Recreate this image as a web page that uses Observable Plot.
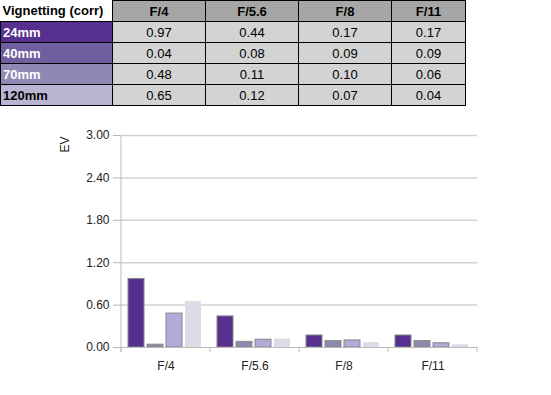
<!DOCTYPE html>
<html>
<head>
<meta charset="utf-8">
<script src="https://cdn.jsdelivr.net/npm/d3@7"></script>
<script src="https://cdn.jsdelivr.net/npm/@observablehq/plot@0.6"></script>
<style>
  html, body { margin: 0; padding: 0; background: #fff; }
  body { width: 551px; height: 395px; overflow: hidden; font-family: "Liberation Sans", Arial, sans-serif; }
  table { border-collapse: collapse; table-layout: fixed; font-size: 13px; }
  td { height: 20px; padding: 0 2px; border: 1px solid #000; text-align: center; color: #000; }
  td.rh { text-align: left; font-weight: bold; }
  th { height: 20px; padding: 0; border: 1px solid #000; background: #a6a6a6; font-weight: bold; }
  th.corner { background: #fff; border-top: none; border-left: none; text-align: left; padding-left: 2px; }
  td.v { background: #d3d3d3; }
  #chart { position: absolute; left: 0; top: 110px; }
  #chart g[aria-label^="y-axis"] path, #chart g[aria-label^="y-axis"] line { stroke: #bbbbbb; }
</style>
</head>
<body>
<div id="tbl"></div>
<div id="chart"></div>
<script>
const title = "Vignetting (corr)";
const apertures = ["F/4", "F/5.6", "F/8", "F/11"];
const lenses = ["24mm", "40mm", "70mm", "120mm"];
const v24 = [0.97, 0.44, 0.17, 0.17];
const v40 = [0.04, 0.08, 0.09, 0.09];
const v70 = [0.48, 0.11, 0.10, 0.06];
const v120 = [0.65, 0.12, 0.07, 0.04];
const yTicks = [0, 0.6, 1.2, 1.8, 2.4, 3.0];
const yLabel = "EV";

const series = [v24, v40, v70, v120];
const barColors = ["#55308f", "#8f88ae", "#b4a9d8", "#dddbe8"];
const barStrokes = ["#888888", "#888888", "#888888", "none"];
const headColors = ["#55308e", "#6f5f9f", "#8f87b4", "#b9b5d3"];
const headText = ["#fff", "#fff", "#fff", "#000"];

// Table
const colW = [112, 93, 93, 93, 74];
let html = "<table><colgroup>" + colW.map(w => `<col style="width:${w}px">`).join("") + "</colgroup>";
html += `<tr><th class="corner">${title}</th>` + apertures.map(a => `<th>${a}</th>`).join("") + "</tr>";
lenses.forEach((l, i) => {
  html += `<tr><td class="rh" style="background:${headColors[i]};color:${headText[i]}">${l}</td>` +
    series[i].map(v => `<td class="v">${v.toFixed(2)}</td>`).join("") + "</tr>";
});
html += "</table>";
document.getElementById("tbl").innerHTML = html;

// Chart data
const rows = [];
lenses.forEach((l, i) => apertures.forEach((a, j) => rows.push({lens: l, aperture: a, value: series[i][j]})));

const W = 551, H = 285, mL = 121, mR = 74, mT = 25, mB = 48;
const band = (W - mL - mR) / apertures.length;
const barW = 16, step = 19, pad0 = 7;

const svgns = "http://www.w3.org/2000/svg";
const boundaryTicks = (index, scales) => {
  const g = document.createElementNS(svgns, "g");
  const x = scales.x, y = scales.y;
  const bw = typeof x.bandwidth === "function" ? x.bandwidth() : (x.bandwidth ?? band);
  const y0 = y(0);
  const xs = apertures.map(a => x(a));
  xs.push(x(apertures[apertures.length - 1]) + bw);
  const line = (x1, y1, x2, y2) => {
    const l = document.createElementNS(svgns, "line");
    l.setAttribute("x1", x1); l.setAttribute("x2", x2);
    l.setAttribute("y1", y1); l.setAttribute("y2", y2);
    l.setAttribute("stroke", "#bbbbbb");
    g.appendChild(l);
  };
  xs.forEach(px => line(px, y0, px, y0 + 5));
  line(xs[0], y(yTicks[yTicks.length - 1]), xs[0], y0 + 5);
  return g;
};

const barMarks = lenses.map((l, i) => Plot.barY(rows.filter(r => r.lens === l), {
  x: "aperture", y: "value",
  fill: barColors[i], stroke: barStrokes[i], strokeWidth: 1,
  insetLeft: pad0 + step * i, insetRight: band - (pad0 + step * i + barW)
}));

const chart = Plot.plot({
  width: W, height: H,
  marginLeft: mL, marginRight: mR, marginTop: mT, marginBottom: mB,
  style: {fontFamily: "'Liberation Sans', Arial, sans-serif", fontSize: "12px", color: "#222", background: "#fff", overflow: "visible"},
  x: {domain: apertures, padding: 0, label: null, tickSize: 0, tickPadding: 14},
  y: {domain: [0, 3], ticks: yTicks, tickFormat: d3.format(".2f"), tickSize: 8, tickPadding: 4, label: null},
  marks: [
    Plot.ruleY(yTicks.slice(1), {stroke: "#d2d2d2", strokeWidth: 1.5}),
    ...barMarks,
    Plot.ruleY([0], {stroke: "#bbbbbb"}),
    boundaryTicks,
    Plot.text([yLabel], {frameAnchor: "top-left", dx: -61, dy: 17, rotate: -90, fontSize: 12, fill: "#222"})
  ]
});
document.getElementById("chart").appendChild(chart);
</script>
</body>
</html>
